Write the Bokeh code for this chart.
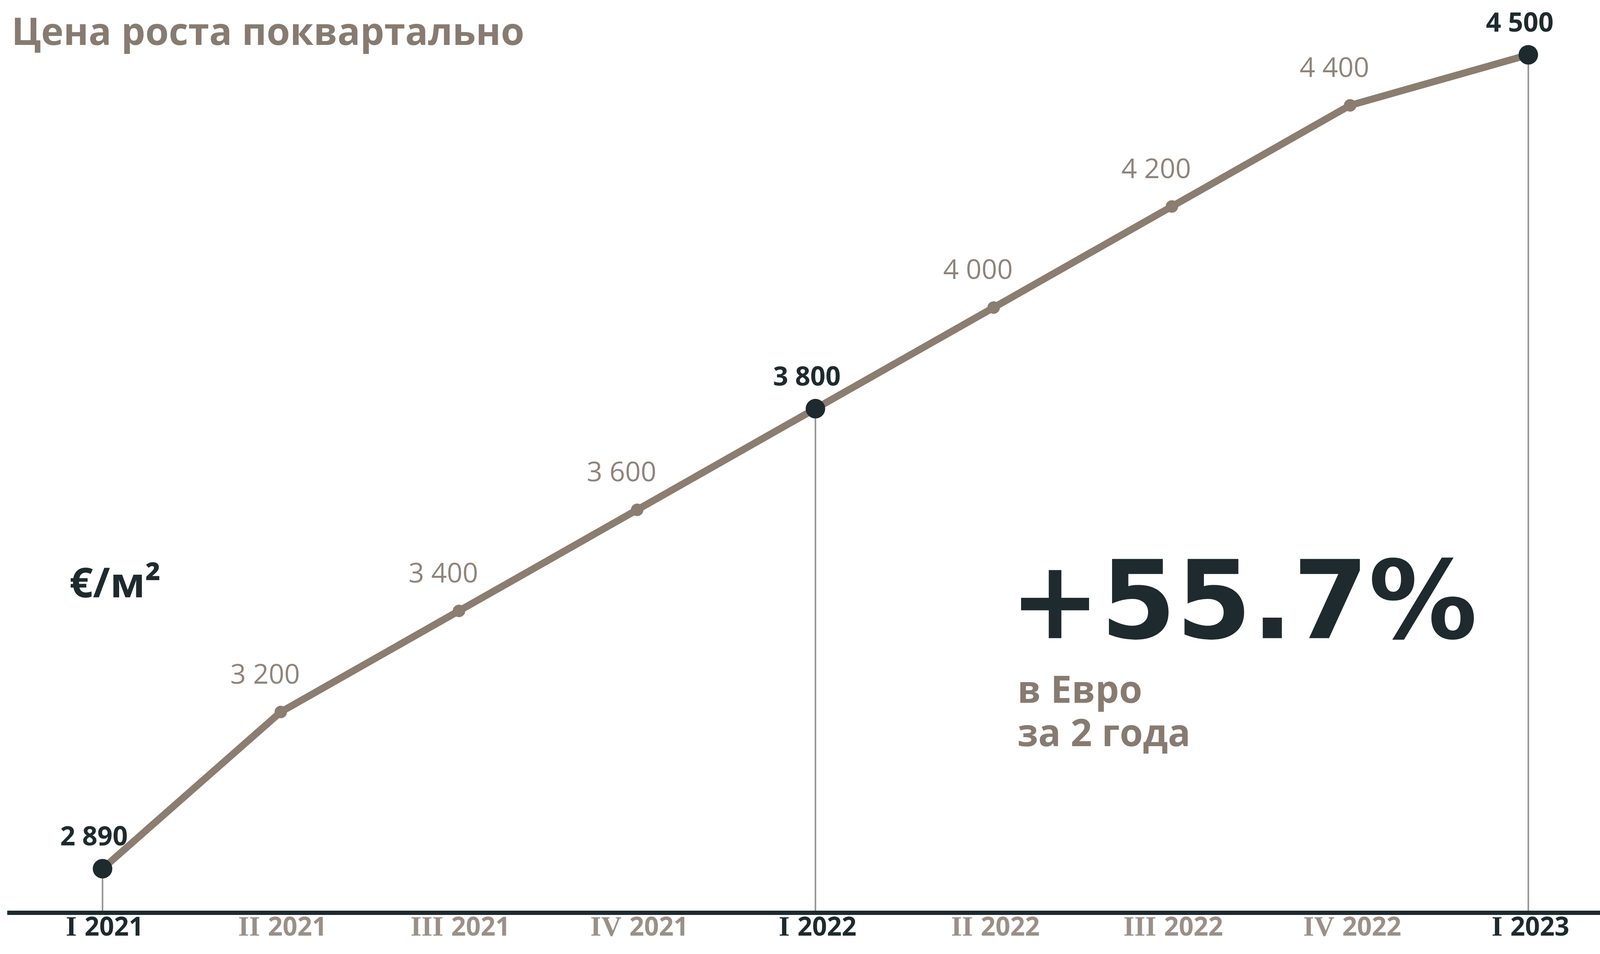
from bokeh.plotting import figure
from bokeh.models import Range1d
from bokeh.core.properties import value
from bokeh.embed import file_html
from bokeh.resources import INLINE

# ---- data ----
quarters = ["I 2021", "II 2021", "III 2021", "IV 2021", "I 2022",
            "II 2022", "III 2022", "IV 2022", "I 2023"]
prices = [2890, 3200, 3400, 3600, 3800, 4000, 4200, 4400, 4500]
price_labels = ["2 890", "3 200", "3 400", "3 600", "3 800",
                "4 000", "4 200", "4 400", "4 500"]
title_text = "Цена роста поквартально"
unit_text = "€/м²"
growth_text = "+55.7%"
growth_sub = ["в Евро", "за 2 года"]

# ---- styling ----
TAUPE = "#8b7d70"
TAUPE_TXT = "#877b71"
GRAY_TXT = "#8f847b"
QGRAY = "#9a9088"
DARK = "#1e2a2e"
SANS = value("Open Sans")
SERIF = value("Liberation Serif")

W, H = 4110, 2424
X0, DX = 270.0, 456.25          # window px of first quarter, px per quarter
Y_REF_V, Y_REF_PX, PX_PER_V = 3200.0, 1830.0, 1.294


def x_at(px):
    return (px - X0) / DX


def v_at(py):
    return Y_REF_V - (py - Y_REF_PX) / PX_PER_V


xs = list(range(len(quarters)))
key = [q.startswith("I ") for q in quarters]
base = v_at(2344)

p = figure(width=W, height=H, output_backend="svg", toolbar_location=None,
           x_range=Range1d(x_at(8), x_at(8 + W)),
           y_range=Range1d(v_at(8 + H), v_at(8)),
           min_border=0, outline_line_color=None)
p.axis.visible = False
p.grid.visible = False
p.background_fill_color = "white"
p.border_fill_color = "white"

kx = [x for x, k in zip(xs, key) if k]
ky = [v for v, k in zip(prices, key) if k]
gx = [x for x, k in zip(xs, key) if not k]
gy = [v for v, k in zip(prices, key) if not k]

# vertical drop lines at key quarters
p.segment(x0=kx, y0=ky, x1=kx, y1=[base] * len(kx), line_color="#939393", line_width=4)

# baseline axis line
p.segment(x0=[x_at(26)], y0=[base], x1=[x_at(8 + W)], y1=[base],
          line_color=DARK, line_width=11)

# main line and dots
p.line(xs, prices, line_color=TAUPE, line_width=18, line_join="round")
p.scatter(gx, gy, size=32, fill_color=TAUPE, line_color=None)
p.scatter(kx, ky, size=50, fill_color=DARK, line_color=None)

# value labels
gl = [l for l, k in zip(price_labels, key) if not k]
kl = [l for l, k in zip(price_labels, key) if k]
p.text(gx, gy, text=gl, text_font=SANS, text_font_size="70px", text_font_style="normal",
       text_color=GRAY_TXT, text_align="center", text_baseline="middle",
       x_offset=-40, y_offset=-100)
p.text(kx, ky, text=kl, text_font=SANS, text_font_size="68px", text_font_style="bold",
       text_color=DARK, text_align="center", text_baseline="middle",
       x_offset=-22, y_offset=-86)

# quarter labels: serif roman numeral + bold sans year, centred on the quarter
lab_y = v_at(2378)
CHAR_W = {"I": 26, "V": 52}
YEAR_W, GAP = 150, 20
num_txt, year_txt, num_off, year_off, colors = [], [], [], [], []
for q, k in zip(quarters, key):
    num, year = q.split(" ")
    nw = sum(CHAR_W[c] for c in num)
    num_txt.append(num)
    year_txt.append(year)
    num_off.append((nw - GAP - YEAR_W) / 2 + 6)
    year_off.append((nw + GAP - YEAR_W) / 2 + 6)
    colors.append(DARK if k else QGRAY)
p.text(xs, [lab_y] * len(xs), text=num_txt, text_font=SERIF, text_font_size="72px",
       text_font_style="bold", text_color=colors, text_align="right",
       text_baseline="middle", x_offset=num_off)
p.text(xs, [lab_y] * len(xs), text=year_txt, text_font=SANS, text_font_size="66px",
       text_font_style="bold", text_color=colors, text_align="left",
       text_baseline="middle", x_offset=year_off)

# annotations (as text glyphs)
p.text([x_at(37)], [v_at(84)], text=[title_text], text_font=SANS, text_font_size="97px",
       text_font_style="bold", text_color=TAUPE_TXT, text_align="left", text_baseline="middle")
p.text([x_at(185)], [v_at(1495)], text=[unit_text], text_font=SANS, text_font_size="106px",
       text_font_style="bold", text_color=DARK, text_align="left", text_baseline="middle")
p.text([x_at(2592)], [v_at(1545)], text=[growth_text], text_font=value("DejaVu Sans"),
       text_font_size="278px", text_font_style="bold", text_color=DARK,
       text_align="left", text_baseline="middle")
p.text([x_at(2612)] * len(growth_sub), [v_at(1769 + i * 111) for i in range(len(growth_sub))],
       text=growth_sub, text_font=SANS, text_font_size="96px", text_font_style="bold",
       text_color=TAUPE_TXT, text_align="left", text_baseline="middle")

open("out.html", "w").write(file_html(p, INLINE))
